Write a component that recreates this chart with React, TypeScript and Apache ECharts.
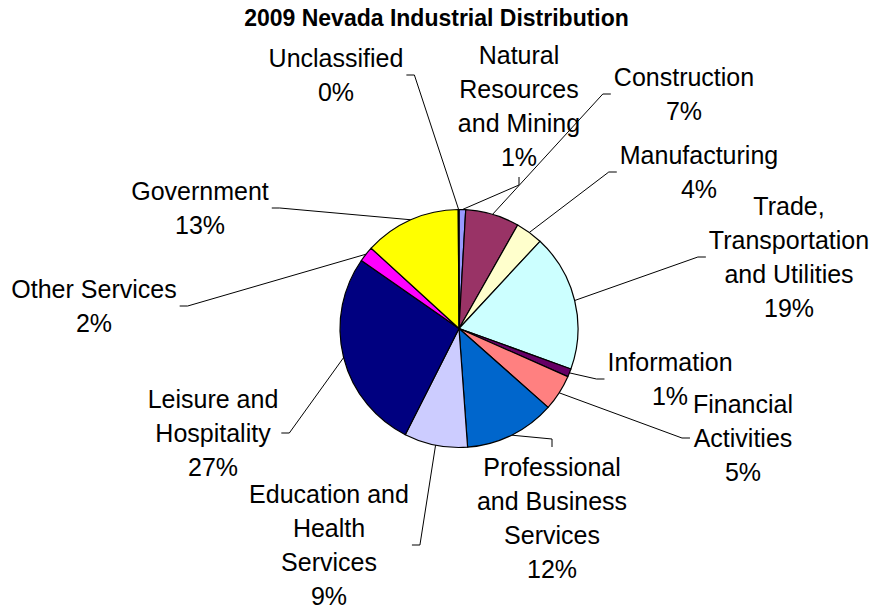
import React, { useEffect, useRef } from "react";
import * as echarts from "echarts";

// ---- Data ----
const chartTitle = "2009 Nevada Industrial Distribution";
const categories = [
  "Natural Resources and Mining",
  "Construction",
  "Manufacturing",
  "Trade, Transportation and Utilities",
  "Information",
  "Financial Activities",
  "Professional and Business Services",
  "Education and Health Services",
  "Leisure and Hospitality",
  "Other Services",
  "Government",
  "Unclassified",
];
const wrappedNames = [
  "Natural\nResources\nand Mining",
  "Construction",
  "Manufacturing",
  "Trade,\nTransportation\nand Utilities",
  "Information",
  "Financial\nActivities",
  "Professional\nand Business\nServices",
  "Education and\nHealth\nServices",
  "Leisure and\nHospitality",
  "Other Services",
  "Government",
  "Unclassified",
];
const shares = [0.9, 7.3, 3.7, 18.6, 1.1, 4.9, 12.3, 8.6, 27.2, 2.1, 13.1, 0.1];
const sliceColors = [
  "#9999FF", "#993366", "#FFFFCC", "#CCFFFF", "#660066", "#FF8080",
  "#0066CC", "#CCCCFF", "#000080", "#FF00FF", "#FFFF00", "#00FFFF",
];

// ---- Layout (label block centres, Excel-style placement) ----
const labelCentres: Record<string, [number, number]> = {
  "Natural Resources and Mining": [519, 106],
  Construction: [684, 94],
  Manufacturing: [699, 172],
  "Trade, Transportation and Utilities": [789, 257],
  Information: [670, 379],
  "Financial Activities": [743, 438],
  "Professional and Business Services": [552, 518],
  "Education and Health Services": [329, 545],
  "Leisure and Hospitality": [213, 433],
  "Other Services": [94, 306],
  Government: [200, 208],
  Unclassified: [336, 75],
};

const FONT = '"Liberation Sans", Arial, Helvetica, sans-serif';

export default function App() {
  const ref = useRef<HTMLDivElement>(null);

  useEffect(() => {
    document.body.style.margin = "0";
    if (!ref.current) return;
    const chart = echarts.init(ref.current, undefined, { renderer: "svg" });
    const total = shares.reduce((a, b) => a + b, 0);
    const GAP = 3;
    const LEN2 = 8;

    const option: any = {
      animation: false,
      backgroundColor: "#ffffff",
      title: {
        text: chartTitle,
        left: "center",
        top: 6,
        padding: 0,
        textStyle: {
          fontFamily: FONT,
          fontSize: 23,
          fontWeight: "bold",
          color: "#000",
          lineHeight: 24,
        },
      },
      series: [
        {
          type: "pie",
          center: [459, 328.5],
          radius: 119,
          startAngle: 90,
          clockwise: true,
          avoidLabelOverlap: false,
          minShowLabelAngle: 0,
          itemStyle: { borderColor: "#000", borderWidth: 1.2 },
          emphasis: { disabled: true },
          label: {
            show: true,
            position: "outside",
            color: "#000",
            fontFamily: FONT,
            fontSize: 25,
            lineHeight: 34,
            align: "center",
            formatter: (p: any) =>
              `${wrappedNames[p.dataIndex]}\n${Math.round((p.value / total) * 100)}%`,
          },
          labelLine: {
            show: true,
            length: 10,
            length2: LEN2,
            lineStyle: { color: "#000", width: 1 },
          },
          labelLayout: (params: any) => {
            const name = categories[params.dataIndex];
            const [cx, cy] = labelCentres[name];
            const w = params.labelRect.width;
            const h = params.labelRect.height;
            const arc = params.labelLinePoints && params.labelLinePoints[0];
            let pts: number[][] | undefined;
            if (arc) {
              const cands = [
                { p: [cx, cy - h / 2 - GAP], d: [0, -1] },
                { p: [cx + w / 2 + GAP, cy], d: [1, 0] },
                { p: [cx, cy + h / 2 + GAP], d: [0, 1] },
                { p: [cx - w / 2 - GAP, cy], d: [-1, 0] },
              ];
              let best = Infinity;
              for (const c of cands) {
                const q = [c.p[0] + c.d[0] * LEN2, c.p[1] + c.d[1] * LEN2];
                const dist = Math.hypot(q[0] - arc[0], q[1] - arc[1]);
                if (dist < best) {
                  best = dist;
                  pts = [[arc[0], arc[1]], q, c.p];
                }
              }
            }
            const out: any = { x: cx, y: cy, align: "center", verticalAlign: "middle" };
            if (pts) out.labelLinePoints = pts;
            return out;
          },
          data: categories.map((name, i) => ({
            name,
            value: shares[i],
            itemStyle: { color: sliceColors[i] },
          })),
        },
      ],
    };

    chart.setOption(option);
    return () => chart.dispose();
  }, []);

  return <div ref={ref} style={{ width: 873, height: 608 }} />;
}
